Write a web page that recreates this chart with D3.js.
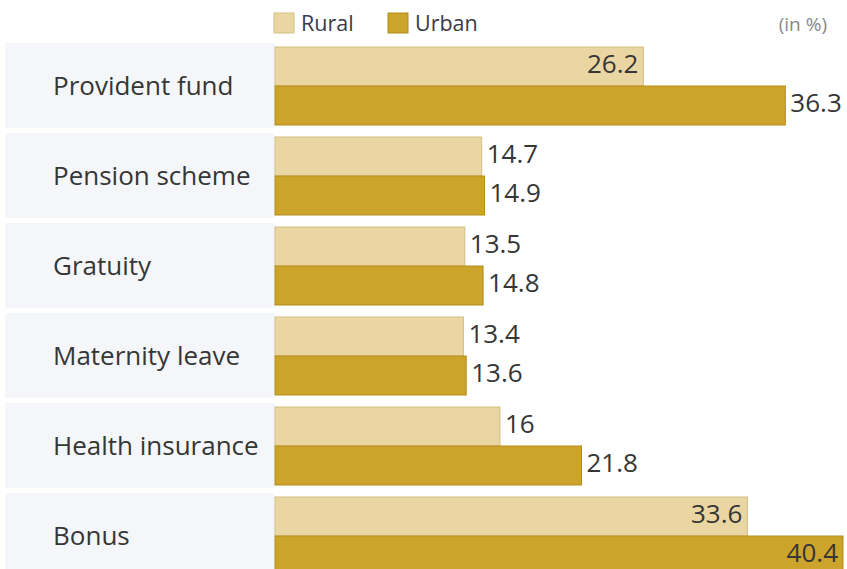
<!DOCTYPE html>
<html>
<head>
<meta charset="utf-8">
<script src="https://cdn.jsdelivr.net/npm/d3@7"></script>
<style>
  html, body { margin: 0; padding: 0; background: #ffffff; }
  svg { display: block; font-family: "Open Sans", "Noto Sans", sans-serif; }
</style>
</head>
<body>
<svg id="chart" width="847" height="569"></svg>
<script>
// Share of workers receiving each benefit, rural vs urban (in %)
const categories = ["Provident fund", "Pension scheme", "Gratuity", "Maternity leave", "Health insurance", "Bonus"];
const ruralValues = [26.2, 14.7, 13.5, 13.4, 16, 33.6];
const urbanValues = [36.3, 14.9, 14.8, 13.6, 21.8, 40.4];
const seriesNames = ["Rural", "Urban"];
const unitLabel = "(in %)";

const width = 847, height = 569;
const svg = d3.select("#chart");

const colors = {
  Rural: { fill: "#e9d6a2", stroke: "#d4bd84" },
  Urban: { fill: "#cca42c", stroke: "#b48d1c" }
};

const rows = categories.map((c, i) => ({ category: c, Rural: ruralValues[i], Urban: urbanValues[i] }));

const x = d3.scaleLinear().domain([0, 40.4]).range([275, 843]);
const y = d3.scaleBand().domain(categories).range([41, 581])
  .paddingInner(12 / 90).paddingOuter(6 / 90);
const ySub = d3.scaleBand().domain(seriesNames).range([0, y.bandwidth()]);

// label panels behind the category names
svg.append("g").selectAll("rect")
  .data(rows).join("rect")
  .attr("x", 5)
  .attr("y", d => y(d.category) - 4)
  .attr("width", x(0) - 5)
  .attr("height", y.bandwidth() + 7)
  .attr("fill", "#f4f6f9");

// category names
svg.append("g").selectAll("text")
  .data(rows).join("text")
  .attr("x", 53)
  .attr("y", d => y(d.category) + y.bandwidth() / 2)
  .attr("dy", "0.35em")
  .attr("font-size", 26)
  .attr("fill", "#363636")
  .text(d => d.category);

// bars
const groups = svg.append("g").selectAll("g")
  .data(rows).join("g")
  .attr("transform", d => `translate(0,${y(d.category)})`);

const bars = groups.selectAll("g.bar")
  .data(d => seriesNames.map(s => ({ series: s, value: d[s] })))
  .join("g").attr("class", "bar");

bars.append("rect")
  .attr("x", x(0))
  .attr("y", d => ySub(d.series))
  .attr("width", d => x(d.value) - x(0))
  .attr("height", ySub.bandwidth())
  .attr("fill", d => colors[d.series].fill)
  .attr("stroke", d => colors[d.series].stroke)
  .attr("stroke-width", 1);

// value labels: inside the long bars, outside the short ones
bars.append("text")
  .attr("y", d => ySub(d.series) + ySub.bandwidth() / 2 - 3)
  .attr("dy", "0.35em")
  .attr("font-size", 26)
  .attr("fill", "#363636")
  .text(d => d.value)
  .each(function (d) {
    const t = d3.select(this);
    const w = this.getComputedTextLength();
    const end = x(d.value);
    const inside = d.value >= 25 && (d.series === "Rural" || end + 5 + w > width);
    if (inside) t.attr("x", end - 5).attr("text-anchor", "end");
    else t.attr("x", end + 5).attr("text-anchor", "start");
  });

// legend
const legend = svg.append("g");
const legendX = { Rural: 274, Urban: 388 };
seriesNames.forEach(s => {
  legend.append("rect")
    .attr("x", legendX[s]).attr("y", 13)
    .attr("width", 20).attr("height", 20)
    .attr("fill", colors[s].fill)
    .attr("stroke", colors[s].stroke);
  legend.append("text")
    .attr("x", legendX[s] + 27).attr("y", 23)
    .attr("dy", "0.35em")
    .attr("font-size", 21.5)
    .attr("fill", "#3a3a48")
    .text(s);
});

svg.append("text")
  .attr("x", 827).attr("y", 24)
  .attr("dy", "0.35em")
  .attr("text-anchor", "end")
  .attr("font-size", 19)
  .attr("fill", "#888888")
  .text(unitLabel);
</script>
</body>
</html>
